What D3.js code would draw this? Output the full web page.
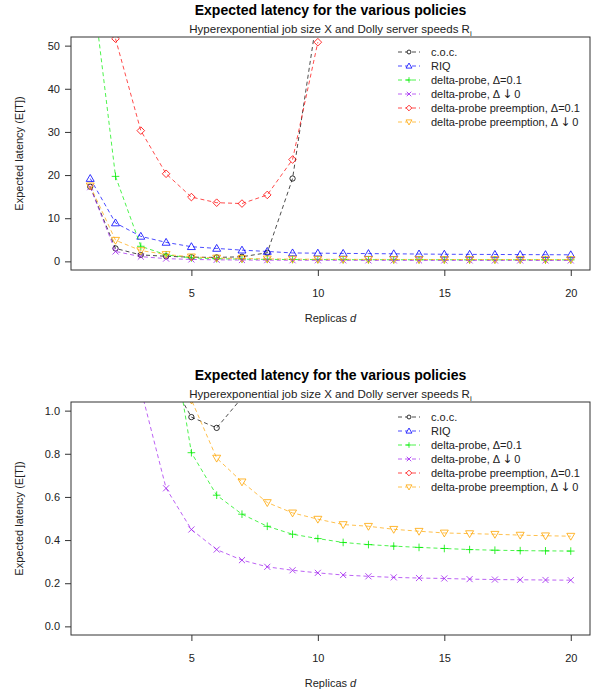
<!DOCTYPE html>
<html>
<head>
<meta charset="utf-8">
<script src="https://cdn.jsdelivr.net/npm/d3@7"></script>
<style>
body { margin: 0; background: #fff; }
svg text { font-family: "Liberation Sans", Arial, sans-serif; fill: #222; }
.tick line { stroke: #333; }
.tick text { font-size: 11px; fill: #222; }
</style>
</head>
<body>
<svg id="chart" width="600" height="694"></svg>
<script>
// values (missing = off the chart / not drawn)
var replicas = [1, 2, 3, 4, 5, 6, 7, 8, 9, 10, 11, 12, 13, 14, 15, 16, 17, 18, 19, 20];
var cocValues = [17.3, 3.0, 1.5, 1.18, 0.97, 0.92, 1.06, 2.0, 19.2, 58, null, null, null, null, null, null, null, null, null, null];
var riqValues = [19.2, 8.9, 5.8, 4.4, 3.4, 3.0, 2.6, 2.3, 1.95, 1.9, 1.85, 1.8, 1.75, 1.7, 1.65, 1.62, 1.6, 1.57, 1.55, 1.52];
var probe01Values = [68, 19.7, 3.5, 1.52, 0.805, 0.608, 0.52, 0.464, 0.427, 0.407, 0.389, 0.379, 0.372, 0.366, 0.361, 0.356, 0.353, 0.351, 0.35, 0.349];
var probe0Values = [17.2, 2.3, 1.1, 0.64, 0.449, 0.356, 0.307, 0.276, 0.26, 0.248, 0.238, 0.232, 0.227, 0.224, 0.222, 0.219, 0.217, 0.216, 0.215, 0.214];
var preempt01Values = [null, 51.6, 30.3, 20.3, 14.9, 13.6, 13.4, 15.4, 23.6, 50.8, null, null, null, null, null, null, null, null, null, null];
var preempt0Values = [17.5, 4.9, 2.5, 1.6, 1.05, 0.78, 0.67, 0.574, 0.526, 0.497, 0.472, 0.464, 0.45, 0.441, 0.433, 0.43, 0.427, 0.423, 0.42, 0.418];

// legend labels: [text before arrow, arrow?, text after]
var seriesNames = [["c.o.c."], ["RIQ"], ["delta-probe, \u0394=0.1"], ["delta-probe, \u0394", "\u2193", "0"],
    ["delta-probe preemption, \u0394=0.1"], ["delta-probe preemption, \u0394", "\u2193", "0"]];
var seriesColors = ["#000000", "#0000ff", "#00ee00", "#a020f0", "#ff0000", "#ffa500"];
var seriesShapes = ["circle", "triangle", "plus", "cross", "diamond", "triangleDown"];
var seriesValues = [cocValues, riqValues, probe01Values, probe0Values, preempt01Values, preempt0Values];

var xTicks = [5, 10, 15, 20];
var topTicks = [0, 10, 20, 30, 40, 50];
var bottomTicks = [0, 0.2, 0.4, 0.6, 0.8, 1.0];

var titleText = "Expected latency for the various policies";
var subtitleText = "Hyperexponential job size X and Dolly server speeds R";

var svg = d3.select("#chart");
var margin = {left: 71, right: 10};
var plotWidth = 600 - margin.left - margin.right;
var plotHeight = 233;

var x = d3.scaleLinear().domain([0.24, 20.76]).range([0, plotWidth]);

function shapePath(shape, s) {
    var p = d3.path();
    if (shape == "circle") {
        p.moveTo(s * 0.7, 0);
        p.arc(0, 0, s * 0.7, 0, 2 * Math.PI);
    } else if (shape == "triangle") {
        p.moveTo(0, -s * 1.05); p.lineTo(s * 1.05, s * 0.75); p.lineTo(-s * 1.05, s * 0.75); p.closePath();
    } else if (shape == "triangleDown") {
        p.moveTo(0, s * 1.05); p.lineTo(s * 1.05, -s * 0.75); p.lineTo(-s * 1.05, -s * 0.75); p.closePath();
    } else if (shape == "plus") {
        p.moveTo(-s, 0); p.lineTo(s, 0); p.moveTo(0, -s); p.lineTo(0, s);
    } else if (shape == "cross") {
        var c = s * 0.8;
        p.moveTo(-c, -c); p.lineTo(c, c); p.moveTo(c, -c); p.lineTo(-c, c);
    } else if (shape == "diamond") {
        p.moveTo(0, -s); p.lineTo(s, 0); p.lineTo(0, s); p.lineTo(-s, 0); p.closePath();
    }
    return p.toString();
}

function drawPanel(top, yDomain, yTicks, yFormat, id) {
    var g = svg.append("g").attr("transform", "translate(" + margin.left + "," + top + ")");
    var y = d3.scaleLinear().domain(yDomain).range([plotHeight, 0]);

    // titles
    svg.append("text")
        .attr("x", margin.left + plotWidth / 2).attr("y", top - 22)
        .attr("text-anchor", "middle")
        .style("font-size", "14px").style("font-weight", "bold").style("fill", "#000")
        .text(titleText);
    var sub = svg.append("text")
        .attr("x", margin.left + plotWidth / 2).attr("y", top - 4)
        .attr("text-anchor", "middle")
        .style("font-size", "11.5px");
    sub.append("tspan").text(subtitleText);
    sub.append("tspan").attr("dy", 3).style("font-size", "8px").text("i");

    svg.append("defs").append("clipPath").attr("id", "clip" + id)
        .append("rect").attr("width", plotWidth).attr("height", plotHeight);

    var xAxis = d3.axisBottom(x).tickValues(xTicks).tickSize(6).tickPadding(13);
    g.append("g").attr("class", "x axis")
        .attr("transform", "translate(0," + plotHeight + ")")
        .call(xAxis)
        .call(function(a) { a.select(".domain").remove(); });

    var yAxis = d3.axisLeft(y).tickValues(yTicks).tickFormat(d3.format(yFormat)).tickSize(6).tickPadding(5);
    g.append("g").attr("class", "y axis")
        .call(yAxis)
        .call(function(a) { a.select(".domain").remove(); });

    g.append("text")
        .attr("x", plotWidth / 2).attr("y", plotHeight + 52)
        .attr("text-anchor", "middle").style("font-size", "11px")
        .text("Replicas ")
        .append("tspan").style("font-style", "italic").text("d");

    g.append("text")
        .attr("transform", "rotate(-90)")
        .attr("x", -plotHeight / 2).attr("y", -48)
        .attr("text-anchor", "middle").style("font-size", "11px")
        .text("Expected latency (E[T])");

    var plot = g.append("g").attr("clip-path", "url(#clip" + id + ")");
    var line = d3.line()
        .defined(function(d) { return d.v != null; })
        .x(function(d) { return x(d.d); })
        .y(function(d) { return y(d.v); });

    seriesValues.forEach(function(vals, i) {
        var pts = replicas.map(function(d, j) { return {d: d, v: vals[j]}; });
        plot.append("path")
            .datum(pts)
            .attr("d", line)
            .attr("fill", "none")
            .attr("stroke", seriesColors[i])
            .attr("stroke-opacity", 0.7)
            .attr("stroke-dasharray", "4,3");
        plot.selectAll(".pt" + i)
            .data(pts.filter(function(d) { return d.v != null; }))
            .enter().append("path")
            .attr("class", "pt" + i)
            .attr("transform", function(d) { return "translate(" + x(d.d) + "," + y(d.v) + ")"; })
            .attr("d", shapePath(seriesShapes[i], 3.8))
            .attr("fill", "none")
            .attr("stroke", seriesColors[i])
            .attr("stroke-opacity", 0.8);
    });

    g.append("rect")
        .attr("width", plotWidth).attr("height", plotHeight)
        .attr("fill", "none").attr("stroke", "#333");

    // legend (no box)
    var legend = g.append("g").attr("transform", "translate(" + (398 - margin.left) + ",15)");
    seriesNames.forEach(function(name, i) {
        var row = legend.append("g").attr("transform", "translate(0," + (i * 14) + ")");
        row.append("line").attr("x1", 0).attr("x2", 22)
            .attr("stroke", seriesColors[i]).attr("stroke-opacity", 0.7)
            .attr("stroke-dasharray", "4,3");
        row.append("path")
            .attr("transform", "translate(11,0)")
            .attr("d", shapePath(seriesShapes[i], 2.8))
            .attr("fill", "#fff")
            .attr("stroke", seriesColors[i]).attr("stroke-opacity", 0.8);
        var t = row.append("text").attr("x", 33).attr("y", 4).style("font-size", "11px");
        t.append("tspan").text(name[0]);
        if (name.length > 1) {
            t.append("tspan").attr("dx", 2).style("font-family", "DejaVu Sans").style("font-size", "12px").text(name[1]);
            t.append("tspan").attr("dx", 2).text(name[2]);
        }
    });
}

drawPanel(37, [-2, 52], topTicks, "d", "top");
drawPanel(402, [-0.04, 1.04], bottomTicks, ".1f", "bottom");
</script>
</body>
</html>
